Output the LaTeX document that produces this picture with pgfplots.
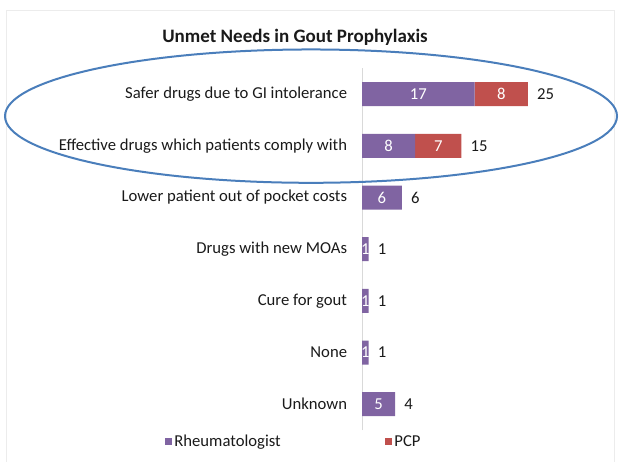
\documentclass[border=0pt]{standalone}
\usepackage{pgfplots}
\pgfplotsset{compat=1.18}
\usepackage{fontspec}
\setmainfont{Carlito}
\definecolor{rheum}{HTML}{8064A2}
\definecolor{pcp}{HTML}{C0504D}
\definecolor{ring}{HTML}{4A7EBB}
\definecolor{txt}{HTML}{1A1A1A}
\newcommand{\lblfont}{\fontsize{12.5}{14}\selectfont}
\pgfplotsset{
  panel/.style={
    at={(271.5pt,24pt)}, anchor=south west,
    scale only axis, width=189pt, height=271.25pt,
    xmin=0, xmax=38, ymin=-0.5, ymax=6.5, clip=false},
}
\begin{document}
\begin{tikzpicture}
\useasboundingbox (0pt,0pt) rectangle (465pt,346.5pt);
% faint chart frame
\draw[gray!15, line width=0.75pt] (4.5pt,0pt) -- (4.5pt,339pt) -- (460.5pt,339pt) -- (460.5pt,0pt);
\node[font=\fontsize{14.25}{17}\selectfont\bfseries, text=txt] at (221.25pt,318.75pt) {Unmet Needs in Gout Prophylaxis};
\begin{axis}[
  panel,
  xbar stacked, bar width=18pt,
  axis x line=none,
  axis y line*=left,
  y axis line style={gray!30, line width=0.75pt},
  ytick={0,...,6},
  yticklabels={Unknown, None, Cure for gout, Drugs with new MOAs,
    Lower patient out of pocket costs,
    Effective drugs which patients comply with,
    Safer drugs due to GI intolerance},
  ytick style={draw=none},
  major tick length=0pt,
  yticklabel style={font=\lblfont, text=txt, inner sep=0pt, xshift=-11pt},
  /pgf/number format/assume math mode=true,
  legend columns=2,
  legend style={draw=none, fill=none, at={(-0.27,-0.033)}, anchor=center,
    font=\lblfont, text=txt,
    /tikz/every even column/.append style={column sep=76pt}},
  legend image code/.code={\fill[#1] (0pt,-2.6pt) rectangle (5.25pt,2.6pt);},
  visualization depends on=rawx \as \rawx,
  inbar/.style={
    nodes near coords={\ifdim\rawx pt>0pt \pgfmathprintnumber{\rawx}\fi},
    every node near coord/.style={anchor=center, inner sep=0pt,
      font=\lblfont, text=white}},
]
\addplot[fill=rheum, draw=none, inbar] coordinates
  {(5,0) (1,1) (1,2) (1,3) (6,4) (8,5) (17,6)};
\addplot[fill=pcp, draw=none, inbar] coordinates
  {(0,0) (0,1) (0,2) (0,3) (0,4) (7,5) (8,6)};
\legend{Rheumatologist, PCP}
\end{axis}
% totals printed past the end of each bar
\begin{axis}[panel, hide axis]
\addplot[draw=none, mark=none, point meta=explicit symbolic,
  nodes near coords,
  every node near coord/.style={anchor=west, inner sep=0pt,
    font=\lblfont, text=txt, xshift=6.75pt}]
  coordinates {(5,0) [4] (1,1) [1] (1,2) [1] (1,3) [1] (6,4) [6] (15,5) [15] (25,6) [25]};
\end{axis}
\draw[ring, line width=1.5pt] (233.25pt,259.4pt) ellipse (229.5pt and 50pt);
\end{tikzpicture}
\end{document}
